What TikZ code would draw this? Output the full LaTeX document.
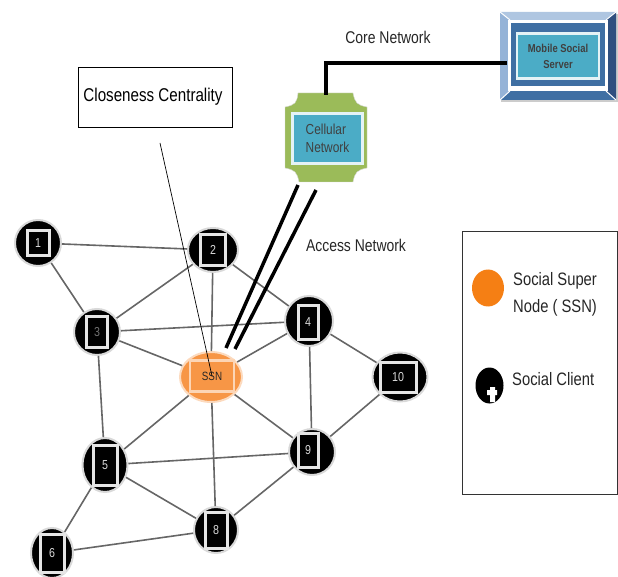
\documentclass[tikz,border=0pt]{standalone}
\usepackage{fontspec}
\setmainfont{Liberation Sans}
\newfontfamily\narrowfont[FakeStretch=0.82]{Liberation Sans}
\usetikzlibrary{positioning,shapes.geometric}

\definecolor{cellgreen}{HTML}{9BBB59}
\definecolor{paneblue}{HTML}{4BACC6}
\definecolor{ringblue}{HTML}{3F6FA3}
\definecolor{bevellight}{HTML}{95B3D7}
\definecolor{beveldark}{HTML}{2F4F7F}
\definecolor{ssnorange}{HTML}{F79646}
\definecolor{legendorange}{HTML}{F57F14}

\tikzset{
  client/.style={draw=black!15,line width=2pt,ellipse,fill=black,inner sep=0pt,minimum width=46pt,minimum height=46pt},
  phone/.style={draw=black!10,line width=3pt,fill=black,text=white!85!black,inner sep=0pt,font=\narrowfont\fontsize{13}{13}\selectfont},
  link/.style={draw=black!60,line width=1.6pt},
  backhaul/.style={draw=black,line width=4.5pt},
  accessline/.style={draw=black,line width=3.5pt},
  caption/.style={font=\narrowfont\fontsize{16}{18}\selectfont,text=black!85,inner sep=0pt},
  pane/.style={fill=paneblue,draw=white!85!paneblue,line width=2.5pt,inner sep=0pt,font=\narrowfont\fontsize{14.5}{18}\selectfont,text=black!75,align=left}
}

\begin{document}
\begin{tikzpicture}[x=1pt,y=-1pt]
        \useasboundingbox (0,0) rectangle (618,577);

        \coordinate (A) at (38,243);
        \coordinate (B) at (213,250);
        \coordinate (C) at (97,332);
        \coordinate (D) at (309,321);
        \coordinate (E) at (105,465);
        \coordinate (F) at (52,553);
        \coordinate (H) at (216,530);
        \coordinate (I) at (312,452);
        \coordinate (J) at (400,377);
        \coordinate (S) at (211,377);

        \node[client] (n1) at (A) {};
        \node[client,minimum width=50pt,minimum height=44pt] (n2) at (B) {};
        \node[client] (n3) at (C) {};
        \node[client,minimum width=48pt,minimum height=50pt] (n4) at (D) {};
        \node[client,minimum width=45pt,minimum height=54pt] (n5) at (E) {};
        \node[client,minimum width=42pt,minimum height=50pt] (n6) at (F) {};
        \node[client,minimum width=44pt] (n8) at (H) {};
        \node[client] (n9) at (I) {};
        \node[client,minimum width=55pt,minimum height=49pt] (n10) at (J) {};
        \node[draw=ssnorange!35,line width=2pt,ellipse,fill=ssnorange,inner sep=0pt,minimum width=62pt,minimum height=50pt] (ssn) at (S) {};

        \node[phone,minimum width=22pt,minimum height=25pt] (p1) at (A) {1};
        \node[phone,minimum width=25pt,minimum height=31pt] (p2) at (B) {2};
        \node[phone,minimum width=21pt,minimum height=31pt,text=black!55] (p3) at (C) {3};
        \node[phone,minimum width=20pt,minimum height=34pt] (p4) at (308,322) {4};
        \node[phone,minimum width=24pt,minimum height=40pt] (p5) at (E) {5};
        \node[phone,minimum width=24pt,minimum height=38pt] (p6) at (F) {6};
        \node[phone,minimum width=22pt,minimum height=36pt] (p8) at (H) {8};
        \node[phone,minimum width=20pt,minimum height=34pt] (p9) at (308,450) {9};
        \node[phone,minimum width=36pt,minimum height=30pt] (p10) at (398,377) {10};
        \node[draw=ssnorange!40,line width=2.5pt,fill=ssnorange,inner sep=0pt,minimum width=44pt,minimum height=31pt,font=\narrowfont\fontsize{12}{12}\selectfont,text=black!85] (pssn) at (212,376) {SSN};

        \path[link]
        (n1) edge (n2)
        (n1) edge (n3)
        (n2) edge (n3)
        (n2) edge (ssn)
        (n2) edge (n4)
        (n3) edge (n4)
        (n3) edge (ssn)
        (n3) edge (n5)
        (n4) edge (ssn)
        (n4) edge (n9)
        (n4) edge (n10)
        (ssn) edge (n5)
        (ssn) edge (n9)
        (ssn) edge (n8)
        (n5) edge (n9)
        (n5) edge (n8)
        (n5) edge (n6)
        (n6) edge (n8)
        (n8) edge (n9)
        (n9) edge (n10);

        %############################################

        % cellular network
        \fill[cellgreen,draw=black!15] (298,93) -- (353,93) .. controls (355,103) and (357,105) .. (367,107)
          -- (367,168) .. controls (357,170) and (355,172) .. (353,182) -- (299,182)
          .. controls (297,172) and (295,170) .. (285,168) -- (285,107) .. controls (295,105) and (297,103) .. (298,93) -- cycle;
        \node[pane,minimum width=70pt,minimum height=50pt] (cell) at (327.5,138.5) {Cellular\\Network};

        % mobile social server
        \fill[black!20] (501,14) rectangle (618,102);
        \fill[bevellight!75!white] (500,12) -- (616,12) -- (606,20) -- (510,20) -- cycle;
        \fill[bevellight] (500,12) -- (510,20) -- (510,91) -- (500,100) -- cycle;
        \fill[beveldark] (616,12) -- (616,100) -- (606,91) -- (606,20) -- cycle;
        \fill[ringblue] (500,100) -- (616,100) -- (606,91) -- (510,91) -- cycle;
        \fill[white] (508,20) rectangle (608,91);
        \draw[white,line width=1pt] (500,12) -- (510,20) (616,12) -- (606,20) (500,100) -- (510,91) (616,100) -- (606,91);
        \fill[ringblue] (511,23) rectangle (605,86);
        \node[pane,minimum width=82pt,minimum height=45pt,font=\narrowfont\bfseries\fontsize{11.5}{16}\selectfont,align=center] (server) at (558,56) {Mobile Social\\Server};

        \coordinate (cellTop) at (326,95);
        \coordinate (bend) at (326,63);
        \coordinate (serverLeft) at (507,63);
        \draw[backhaul,line join=miter] (cellTop) -- (bend) -- (serverLeft);

        \coordinate (cellA) at (298,185);
        \coordinate (cellB) at (316,190);
        \coordinate (ssnA) at (226,348);
        \coordinate (ssnB) at (235,349);
        \draw[accessline] (cellA) -- (ssnA);
        \draw[accessline] (cellB) -- (ssnB);

        \node[caption,font=\narrowfont\fontsize{17}{19}\selectfont] (core) at (388,37) {Core Network};
        \node[caption,font=\narrowfont\fontsize{17}{19}\selectfont] (access) at (356,245) {Access Network};

        % closeness
        \node[draw=black,line width=0.8pt,minimum width=154pt,minimum height=60pt,inner sep=0pt,font=\narrowfont\fontsize{18.5}{20}\selectfont] (close) at (155,97) {Closeness Centrality\kern4pt};
        \coordinate (closeEnd) at (160,143);
        \draw[black,line width=0.7pt] (closeEnd) -- (pssn.center);

        % legend
        \node[draw=black!80,line width=1pt,minimum width=155pt,minimum height=262pt,inner sep=0pt] (legend) at (539.5,363) {};
        \node[ellipse,fill=legendorange,inner sep=0pt,minimum width=32pt,minimum height=37pt] (superdot) at (488,288) {};
        \node[caption,font=\narrowfont\fontsize{18}{27}\selectfont,align=left,anchor=west] (supertext) at (513,294) {Social Super\\Node ( SSN)};
        \node[ellipse,fill=black,inner sep=0pt,minimum width=28pt,minimum height=36pt] (clientdot) at (489.5,385.5) {};
        \fill[white] (487,390) rectangle (497,395) (490,387) rectangle (495,402);
        \node[caption,font=\narrowfont\fontsize{18}{20}\selectfont,anchor=west] (clienttext) at (512,379) {Social Client};
\end{tikzpicture}
\end{document}
